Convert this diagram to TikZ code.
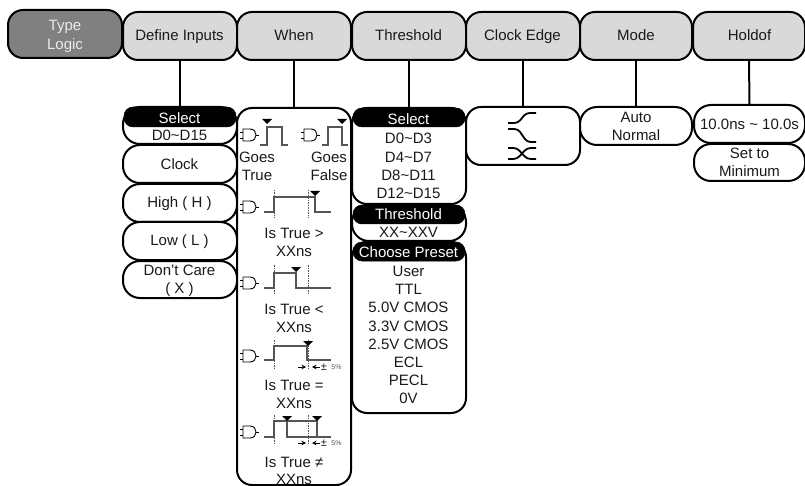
\documentclass[tikz,border=0pt]{standalone}
\usepackage{fontspec}
\setmainfont{Liberation Sans}
\usetikzlibrary{arrows.meta}
\definecolor{menugray}{HTML}{D9D9D9}
\definecolor{typegray}{HTML}{808080}
\definecolor{wavegray}{HTML}{555555}
\definecolor{txt}{HTML}{1A1A1A}
\tikzset{
  basebox/.style={draw=black,line width=2pt,rounded corners=15pt,inner sep=0pt,outer sep=0pt},
  menubox/.style={basebox,fill=menugray},
  typebox/.style={basebox,fill=typegray},
  whitebox/.style={basebox,fill=white},
  pillbox/.style={basebox,fill=white,rounded corners=17pt},
  headbox/.style={draw=black,fill=black,line width=0.5pt,rounded corners=9pt,inner sep=0pt,outer sep=0pt},
  lbl/.style={inner sep=0pt,outer sep=0pt,text=txt,font=\fontsize{15}{18}\selectfont,text height=10.7pt,text depth=0pt},
  wlbl/.style={lbl,text=white},
  tlbl/.style={lbl,text=white!92!black},
  conn/.style={draw=black,line width=2pt},
  wave/.style={draw=wavegray,line width=1.2pt},
  gate/.style={draw=black,line width=0.9pt},
  dashln/.style={draw=wavegray,line width=0.8pt,dash pattern=on 1.5pt off 1pt},
  edgeline/.style={draw=black,line width=1.8pt,rounded corners=3.5pt},
  marker/.style={fill=black,draw=none},
  tol/.style={draw=black,line width=0.9pt,-{Stealth[length=4.5pt,width=4.5pt]}}
}
\newcommand{\mnbox}[7]{\node[#6,minimum width={#4-#2},minimum height={#5-#3}] (#1) at ({(#2+#4)/2},{(#3+#5)/2}) {#7};}
\newcommand{\lb}[5][lbl]{\node[#1] (#2) at (#3,#4) {#5};}
\newcommand{\andg}[2]{%
  \begin{scope}[shift={(#1,#2)}]
    \draw[gate] (-3,-3)--(0,-3) (-3,3)--(0,3) (13,0)--(16,0);
    \draw[gate] (0,-6)--(7,-6) .. controls (11,-6) and (13,-3) .. (13,0) .. controls (13,3) and (11,6) .. (7,6)--(0,6)--cycle;
  \end{scope}}
\newcommand{\mrk}[2]{\fill[marker] (#1-5,#2-5)--(#1+5,#2-5)--(#1,#2)--cycle;}
\newcommand{\toler}[1]{%
  \draw[tol] (298,#1)--(306,#1);
  \draw[tol] (320,#1)--(312,#1);
  \node[inner sep=0pt,font=\fontsize{11}{11}\selectfont,text=txt] (pm#1) at (324,#1) {±};
  \node[inner sep=0pt,font=\fontsize{7}{7}\selectfont,text=wavegray] (pc#1) at (336.5,#1+0.5) {5\%};}
\begin{document}
\begin{tikzpicture}[x=1pt,y=-1pt]
\useasboundingbox (0,0) rectangle (805,486);
% top menu
\mnbox{mtype}{8}{10}{122}{58}{typebox}{}
\mnbox{mdef}{123}{12}{237}{60}{menubox}{}
\mnbox{mwhen}{237}{12}{351}{60}{menubox}{}
\mnbox{mthr}{352}{12}{466}{60}{menubox}{}
\mnbox{mclk}{466}{12}{580}{60}{menubox}{}
\mnbox{mmode}{580}{12}{692}{60}{menubox}{}
\mnbox{mhold}{693}{12}{805}{60}{menubox}{}
\lb[tlbl]{t1}{65}{25}{Type}
\lb[tlbl]{t2}{65}{44}{Logic}
\lb{t3}{179.5}{35}{Define Inputs}
\lb{t4}{294}{35}{When}
\lb{t5}{408.5}{35}{Threshold}
\lb{t6}{522.5}{35}{Clock Edge}
\lb{t7}{636}{35}{Mode}
\lb{t8}{749.5}{35}{Holdof}
% submenu boxes
\mnbox{dsel}{123}{107}{237}{144}{pillbox}{}
\mnbox{dclk}{123}{145}{237}{183}{pillbox}{}
\mnbox{dhi}{123}{184}{237}{222}{pillbox}{}
\mnbox{dlo}{123}{222}{237}{260}{pillbox}{}
\mnbox{dx}{123}{261}{237}{298}{pillbox}{}
\mnbox{wbox}{237}{108}{351}{485}{whitebox}{}
\mnbox{tsel}{352}{108}{466}{204}{whitebox}{}
\mnbox{tthr}{352}{205}{466}{241}{pillbox}{}
\mnbox{tpre}{352}{242}{466}{413}{whitebox}{}
\mnbox{cbox}{466}{107}{580}{165}{whitebox}{}
\mnbox{mobox}{580}{107}{692}{145}{pillbox}{}
\mnbox{hrng}{694}{105}{805}{143}{pillbox}{}
\mnbox{hset}{694}{144}{805}{181}{pillbox}{}
% headers
\mnbox{h1}{124}{107}{236}{127}{headbox}{}
\mnbox{h2}{353}{108}{465}{127}{headbox}{}
\mnbox{h3}{353}{205}{465}{224}{headbox}{}
\mnbox{h4}{353}{242}{465}{261}{headbox}{}
% connectors
\draw[conn] (mdef.south) -- (dsel.north);
\draw[conn] (mwhen.south) -- (wbox.north);
\draw[conn] (mthr.south) -- (tsel.north);
\draw[conn] (mclk.south) -- (cbox.north);
\draw[conn] (mmode.south) -- (mobox.north);
\draw[conn] (mhold.south) -- (hrng.north);
% define inputs labels
\lb[wlbl]{a1}{179.5}{118}{Select}
\lb{a2}{179.5}{135}{D0\char`\~D15}
\lb{a3}{179.5}{164}{Clock}
\lb{a4}{179.5}{202}{High ( H )}
\lb{a5}{179.5}{240}{Low ( L )}
\lb{a6}{179.5}{270}{Don't Care}
\lb{a7}{179.5}{288}{( X )}
% threshold labels
\lb[wlbl]{b1}{408.5}{119}{Select}
\lb{b2}{408.5}{138}{D0\char`\~D3}
\lb{b3}{408.5}{157}{D4\char`\~D7}
\lb{b4}{408.5}{175}{D8\char`\~D11}
\lb{b5}{408.5}{193}{D12\char`\~D15}
\lb[wlbl]{b6}{408.5}{214}{Threshold}
\lb{b7}{408.5}{232}{XX\char`\~XXV}
\lb[wlbl]{b8}{408.5}{252}{Choose Preset}
\lb{b9}{408.5}{271}{User}
\lb{b10}{408.5}{289}{TTL}
\lb{b11}{408.5}{307}{5.0V CMOS}
\lb{b12}{408.5}{326}{3.3V CMOS}
\lb{b13}{408.5}{344}{2.5V CMOS}
\lb{b14}{408.5}{362}{ECL}
\lb{b15}{408.5}{380}{PECL}
\lb{b16}{408.5}{398}{0V}
% mode / holdoff
\lb{c1}{636}{117}{Auto}
\lb{c2}{636}{135}{Normal}
\lb{c3}{749.5}{124}{10.0ns \char`\~{} 10.0s}
\lb{c4}{749.5}{153}{Set to}
\lb{c5}{749.5}{171}{Minimum}
% when labels
\lb{w1}{257}{157}{Goes}
\lb{w2}{257}{175}{True}
\lb{w3}{329}{157}{Goes}
\lb{w4}{329}{175}{False}
\lb{w5}{294}{233}{Is True >}
\lb{w6}{294}{251}{XXns}
\lb{w7}{294}{309}{Is True <}
\lb{w8}{294}{327}{XXns}
\lb{w9}{294}{385}{Is True =}
\lb{w10}{294}{403}{XXns}
\lb{w11}{294}{462}{Is True ≠}
\lb{w12}{294}{479}{XXns}
% Goes true / false
\andg{243}{135}
\draw[wave] (260,145)--(267,145)--(267,127)--(282,127)--(282,145)--(288,145);
\mrk{267}{124}
\andg{304}{135}
\draw[wave] (322,145)--(328,145)--(328,127)--(342,127)--(342,145)--(348,145);
\mrk{342}{124}
% greater
\andg{243}{207}
\draw[dashln] (274,190)--(274,218) (308,190)--(308,218);
\draw[wave] (264,212)--(274,212)--(274,197)--(315,197)--(315,212)--(331,212);
\mrk{315}{196}
% less
\andg{243}{283}
\draw[dashln] (274,265)--(274,294) (308,265)--(308,294);
\draw[wave] (264,288)--(274,288)--(274,273)--(296,273)--(296,288)--(331,288);
\mrk{296}{272}
% equal
\andg{243}{356}
\draw[dashln] (274,340)--(274,368) (308,340)--(308,368);
\draw[wave] (264,360)--(274,360)--(274,346)--(307,346)--(307,360)--(331,360);
\mrk{308}{346}
\toler{367}
% not equal
\andg{243}{432}
\draw[dashln] (274,415)--(274,445) (308,415)--(308,445);
\draw[wave] (264,437)--(274,437)--(274,421)--(317,421)--(317,437) (287,421)--(287,437)--(331,437);
\mrk{287}{421}
\mrk{317}{421}
\toler{443}
% clock edge icons
\draw[edgeline] (536,113)--(526,113)--(518,123)--(508,123);
\draw[edgeline] (508,129)--(518,129)--(527,142)--(536,142);
\draw[edgeline] (508,148)--(517,148)--(527,159)--(536,159);
\draw[edgeline] (536,148)--(527,148)--(517,159)--(508,159);
\end{tikzpicture}
\end{document}
